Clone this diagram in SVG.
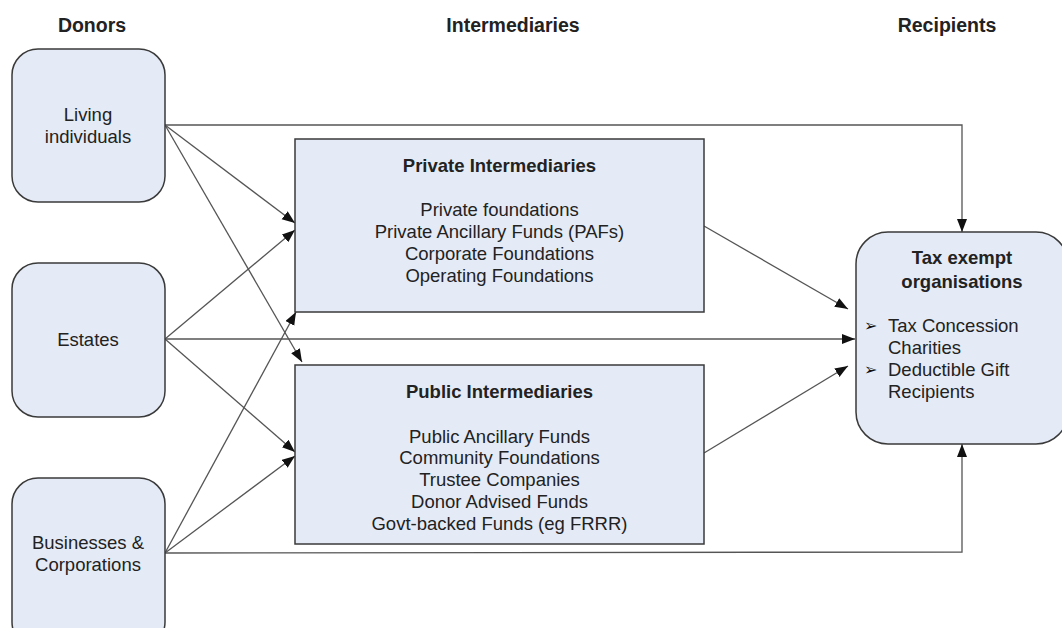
<svg xmlns="http://www.w3.org/2000/svg" width="1062" height="628" viewBox="0 0 1062 628">
<defs>
<marker id="arr" markerUnits="userSpaceOnUse" markerWidth="14" markerHeight="12" refX="13" refY="5" orient="auto">
<path d="M0,0 L13,5 L0,10 Z" fill="#111"/>
</marker>
<style>
.box{fill:#e5ebf6;stroke:#3a3a3a;stroke-width:1.5}
.t{font-family:"Liberation Sans",Arial,sans-serif;font-size:18.5px;fill:#222;text-anchor:middle}
.b{font-weight:bold}
.h{font-family:"Liberation Sans",Arial,sans-serif;font-size:19.5px;font-weight:bold;fill:#222;text-anchor:middle}
.c{fill:none;stroke:#555;stroke-width:1.3}
.l{font-family:"Liberation Sans",Arial,sans-serif;font-size:18.5px;fill:#222}
.bl{font-family:"DejaVu Sans",sans-serif;font-size:16px;fill:#111}
</style>
</defs>
<rect width="1062" height="628" fill="#fff"/>
<g id="headers">
<text class="h" x="92" y="32">Donors</text>
<text class="h" x="513" y="32">Intermediaries</text>
<text class="h" x="947" y="32">Recipients</text>
</g>
<g id="connectors">
<polyline class="c" points="165,125 962,125 962,232" marker-end="url(#arr)"/>
<line class="c" x1="165" y1="125" x2="295" y2="223" marker-end="url(#arr)"/>
<line class="c" x1="165" y1="125" x2="302" y2="362" marker-end="url(#arr)"/>
<line class="c" x1="165" y1="339" x2="295" y2="230" marker-end="url(#arr)"/>
<line class="c" x1="165" y1="339" x2="855" y2="339" marker-end="url(#arr)"/>
<line class="c" x1="165" y1="339" x2="295" y2="452" marker-end="url(#arr)"/>
<line class="c" x1="165" y1="553" x2="296" y2="312" marker-end="url(#arr)"/>
<line class="c" x1="165" y1="553" x2="295" y2="456" marker-end="url(#arr)"/>
<polyline class="c" points="165,553 962,552 962,444" marker-end="url(#arr)"/>
<line class="c" x1="704" y1="226" x2="848" y2="309" marker-end="url(#arr)"/>
<line class="c" x1="704" y1="453" x2="848" y2="366" marker-end="url(#arr)"/>
</g>
<g id="living">
<rect class="box" x="12" y="49" width="153" height="153" rx="26"/>
<text class="t" x="88" y="121">Living</text>
<text class="t" x="88" y="143">individuals</text>
</g>
<g id="estates">
<rect class="box" x="12" y="263" width="153" height="154" rx="26"/>
<text class="t" x="88" y="346">Estates</text>
</g>
<g id="businesses">
<rect class="box" x="12" y="478" width="153" height="170" rx="26"/>
<text class="t" x="88" y="549">Businesses &amp;</text>
<text class="t" x="88" y="571">Corporations</text>
</g>
<g id="private">
<rect class="box" x="295" y="139" width="409" height="173"/>
<text class="t b" x="499.5" y="172">Private Intermediaries</text>
<text class="t" x="499.5" y="216">Private foundations</text>
<text class="t" x="499.5" y="238">Private Ancillary Funds (PAFs)</text>
<text class="t" x="499.5" y="260">Corporate Foundations</text>
<text class="t" x="499.5" y="282">Operating Foundations</text>
</g>
<g id="public">
<rect class="box" x="295" y="365" width="409" height="179"/>
<text class="t b" x="499.5" y="398">Public Intermediaries</text>
<text class="t" x="499.5" y="443">Public Ancillary Funds</text>
<text class="t" x="499.5" y="464">Community Foundations</text>
<text class="t" x="499.5" y="486">Trustee Companies</text>
<text class="t" x="499.5" y="508">Donor Advised Funds</text>
<text class="t" x="499.5" y="530">Govt-backed Funds (eg FRRR)</text>
</g>
<g id="recipients">
<rect class="box" x="856" y="232" width="212" height="212" rx="32"/>
<text class="t b" x="962" y="264">Tax exempt</text>
<text class="t b" x="962" y="288">organisations</text>
<text class="bl" x="864" y="331">➢</text>
<text class="l" x="888" y="332">Tax Concession</text>
<text class="l" x="888" y="354">Charities</text>
<text class="bl" x="864" y="375">➢</text>
<text class="l" x="888" y="376">Deductible Gift</text>
<text class="l" x="888" y="398">Recipients</text>
</g>
</svg>
